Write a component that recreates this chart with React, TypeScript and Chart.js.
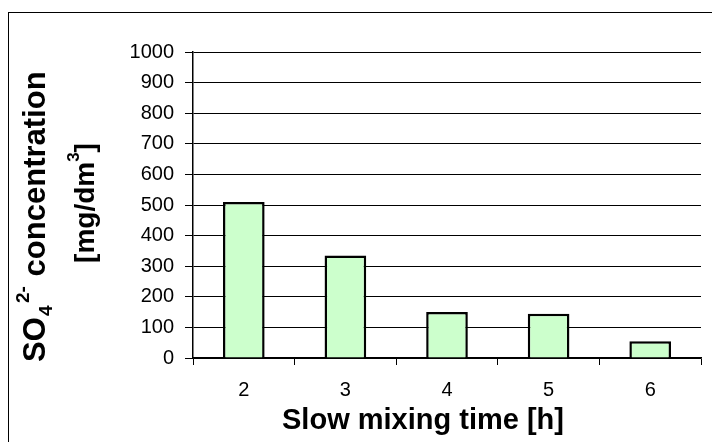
import React, { useEffect, useRef } from "react";
import { Chart, registerables } from "chart.js";

Chart.register(...registerables);

const categories: string[] = ["2", "3", "4", "5", "6"];
const concentration: number[] = [510, 335, 150, 145, 55];
const yMin = 0;
const yMax = 1000;
const yStep = 100;
const xTitle = "Slow mixing time [h]";

const FONT = '"Liberation Sans", Arial, sans-serif';

type Seg = { t: string; kind: "n" | "sub" | "sup"; at?: number };
// "at" = offset (px) along the rotated line from its start
const yTitleLine1: Seg[] = [
  { t: "SO", kind: "n", at: 0 },
  { t: "4", kind: "sub", at: 46 },
  { t: "2-", kind: "sup", at: 59 },
  { t: " concentration", kind: "n", at: 77 },
];
const yTitleLine2: Seg[] = [
  { t: "[mg/dm", kind: "n" },
  { t: "3", kind: "sup" },
  { t: "]", kind: "n" },
];

function segFont(kind: string, size: number) {
  return `bold ${kind === "n" ? size : Math.round(size * 0.62)}px ${FONT}`;
}
function segDy(kind: string, size: number) {
  return kind === "sub" ? size * 0.24 : kind === "sup" ? -size * 0.52 : 0;
}

// Draw rotated -90deg; baseline at canvas x = bx; text starts at canvas y = startY (going up)
function drawRichFrom(ctx: CanvasRenderingContext2D, segs: Seg[], size: number, bx: number, startY: number) {
  ctx.save();
  ctx.translate(bx, startY);
  ctx.rotate(-Math.PI / 2);
  ctx.textBaseline = "alphabetic";
  ctx.textAlign = "left";
  let x = 0;
  for (const s of segs) {
    ctx.font = segFont(s.kind, size);
    if (typeof s.at === "number") x = s.at;
    ctx.fillText(s.t, x, segDy(s.kind, size));
    x += ctx.measureText(s.t).width;
  }
  ctx.restore();
}

function drawRichCentered(ctx: CanvasRenderingContext2D, segs: Seg[], size: number, bx: number, cy: number) {
  let total = 0;
  for (const s of segs) {
    ctx.font = segFont(s.kind, size);
    total += ctx.measureText(s.t).width;
  }
  drawRichFrom(ctx, segs, size, bx, cy + total / 2);
}

const titlesPlugin = {
  id: "titlesPlugin",
  afterDraw(chart: any) {
    const ctx: CanvasRenderingContext2D = chart.ctx;
    ctx.save();
    ctx.fillStyle = "#000";
    ctx.font = `bold 29px ${FONT}`;
    ctx.textAlign = "center";
    ctx.textBaseline = "alphabetic";
    ctx.fillText(xTitle, 423, 429);
    drawRichFrom(ctx, yTitleLine1, 31, 45, 362);
    drawRichCentered(ctx, yTitleLine2, 28, 94, 203);
    ctx.restore();
  },
};

export default function App() {
  const ref = useRef<HTMLCanvasElement | null>(null);
  useEffect(() => {
    if (!ref.current) return;
    const chart = new Chart(ref.current, {
      type: "bar",
      data: {
        labels: categories,
        datasets: [
          {
            data: concentration,
            backgroundColor: "#CCFFCC",
            borderColor: "#000000",
            borderWidth: 2.5,
            categoryPercentage: 1,
            barPercentage: 0.41,
          },
        ],
      },
      options: {
        responsive: false,
        animation: false,
        devicePixelRatio: 1,
        layout: { padding: { left: 0, top: 52, right: 11, bottom: 0 } },
        plugins: {
          legend: { display: false },
          tooltip: { enabled: false },
          title: { display: false },
        },
        scales: {
          x: {
            afterFit: (s: any) => {
              s.height = 84;
            },
            border: { color: "#000", width: 1.5 },
            grid: {
              offset: true,
              color: (c: any) => (c.index === categories.length ? "#808080" : "rgba(0,0,0,0)"),
              tickColor: "#000",
              tickLength: 7,
              lineWidth: 1,
            },
            ticks: {
              color: "#000",
              padding: 13,
              font: { family: FONT, size: 20 },
            },
          },
          y: {
            min: yMin,
            max: yMax,
            afterFit: (s: any) => {
              s.width = 193;
            },
            border: { color: "#000", width: 1.5 },
            grid: {
              color: "#000",
              tickColor: "#000",
              tickLength: 8,
              lineWidth: 1,
            },
            ticks: {
              stepSize: yStep,
              color: "#000",
              padding: 11,
              font: { family: FONT, size: 20 },
              callback: (v: any) => String(v),
            },
          },
        },
      },
      plugins: [titlesPlugin],
    });
    return () => chart.destroy();
  }, []);

  return (
    <div
      style={{
        position: "fixed",
        left: 0,
        top: 0,
        width: 712,
        height: 442,
        overflow: "hidden",
        background: "#fff",
      }}
    >
      <div
        style={{
          position: "absolute",
          left: 8,
          top: 12,
          width: 760,
          height: 500,
          border: "1.5px solid #000",
        }}
      />
      <canvas
        ref={ref}
        width={712}
        height={442}
        style={{ position: "absolute", left: 0, top: 0, width: 712, height: 442 }}
      />
    </div>
  );
}
